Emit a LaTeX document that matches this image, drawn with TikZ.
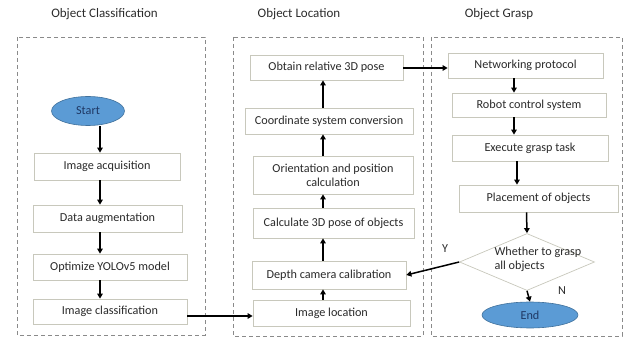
\documentclass[tikz,border=0pt]{standalone}
\usepackage{fontspec}
\setmainfont{Carlito}
\usetikzlibrary{shapes.geometric,arrows.meta,calc}
\definecolor{boxline}{HTML}{C8C8BC}
\definecolor{dashline}{HTML}{8A8A8A}
\definecolor{ellfill}{HTML}{5B9BD5}
\definecolor{elldraw}{HTML}{41719C}
\definecolor{elltext}{HTML}{1F3864}
\definecolor{txt}{HTML}{2B2B2B}
\begin{document}
\begin{tikzpicture}[x=1pt,y=-1pt,
  every node/.style={font=\fontsize{12.2}{14}\selectfont, text=txt},
  procbox/.style={draw=boxline, fill=white, line width=0.7pt, inner sep=1pt, align=center},
  term/.style={ellipse, draw=elldraw, fill=ellfill, line width=0.6pt, inner sep=0pt, text=elltext},
  decision/.style={diamond, draw=boxline, fill=white, line width=0.7pt, inner sep=0pt},
  panel/.style={draw=dashline, dash pattern=on 4pt off 3pt, line width=0.6pt},
  arr/.style={-{Triangle[length=5pt,width=5.5pt]}, line width=1.5pt, draw=black},
  title/.style={font=\fontsize{13}{15}\selectfont}
]
\useasboundingbox (0,0) rectangle (629,339);

% panels
\draw[panel] (17,37) rectangle (205,335);
\draw[panel] (233,37) rectangle (423,336);
\draw[panel] (431,37) rectangle (622,336);

% titles
\node[title] (t1) at (104.5,14) {Object Classification};
\node[title] (t2) at (299,14) {Object Location};
\node[title] (t3) at (499,14) {Object Grasp};

% left column
\node[term, minimum width=73, minimum height=29] (start) at (88,111) {Start};
\node[procbox, minimum width=146, minimum height=27] (acq) at (107,166.5) {Image acquisition};
\node[procbox, minimum width=149, minimum height=27] (aug) at (107.5,218.5) {Data augmentation};
\node[procbox, minimum width=154, minimum height=26] (yolo) at (110,267) {Optimize YOLOv5 model};
\node[procbox, minimum width=154, minimum height=25] (cls) at (110,311.5) {Image classification};

% middle column
\node[procbox, minimum width=153, minimum height=25] (obtain) at (326.5,67.5) {Obtain relative 3D pose};
\node[procbox, minimum width=168, minimum height=26] (coord) at (329,121) {Coordinate system conversion};
\node[procbox, minimum width=160, minimum height=38] (orient) at (333,175) {Orientation and position\\calculation};
\node[procbox, minimum width=161, minimum height=30] (calc) at (333.5,223) {Calculate 3D pose of objects};
\node[procbox, minimum width=154, minimum height=28] (depth) at (329,275) {Depth camera calibration};
\node[procbox, minimum width=157, minimum height=26] (imgloc) at (331.5,313) {Image location};

% right column
\node[procbox, minimum width=155, minimum height=25] (net) at (525.5,65.5) {Networking protocol};
\node[procbox, minimum width=154, minimum height=24] (robot) at (529,105) {Robot control system};
\node[procbox, minimum width=156, minimum height=26] (exec) at (530,148) {Execute grasp task};
\node[procbox, minimum width=159, minimum height=27] (place) at (538.5,198.5) {Placement of objects};
\node[decision, minimum width=135, minimum height=57] (dec) at (527,262) {};
\node[align=left, anchor=west] (dectext) at (491,259) {Whether to grasp\\all objects};
\node[term, minimum width=96, minimum height=26] (end) at (530,315) {End};
\node (ylab) at (445,249) {Y};
\node (nlab) at (562,291) {N};

% arrow columns
\coordinate (cl) at (100,0);
\coordinate (cm) at (323,0);
\coordinate (cr1) at (514,0);
\coordinate (cr2) at (517,0);
\coordinate (cr3) at (526.5,0);
\coordinate (row1) at (0,316);
\coordinate (row2) at (0,68);

% left arrows
\draw[arr] (start.south -| cl) -- (acq.north -| cl);
\draw[arr] (acq.south -| cl) -- (aug.north -| cl);
\draw[arr] (aug.south -| cl) -- (yolo.north -| cl);
\draw[arr] (yolo.south -| cl) -- (cls.north -| cl);

% cross arrows
\draw[arr] (cls.east |- row1) -- (imgloc.west |- row1);
\draw[arr] (obtain.east |- row2) -- (net.west |- row2);

% middle arrows (upward)
\draw[arr] (imgloc.north -| cm) -- (depth.south -| cm);
\draw[arr] (depth.north -| cm) -- (calc.south -| cm);
\draw[arr] (calc.north -| cm) -- (orient.south -| cm);
\draw[arr] (orient.north -| cm) -- (coord.south -| cm);
\draw[arr] (coord.north -| cm) -- (obtain.south -| cm);

% right arrows
\draw[arr] (net.south -| cr1) -- (robot.north -| cr1);
\draw[arr] (robot.south -| cr1) -- (exec.north -| cr1);
\draw[arr] (exec.south -| cr2) -- (place.north -| cr2);
\draw[arr] (place.south -| cr3) -- (dec.north);
\draw[arr] (dec.south) -- (end.north);
\draw[arr] (dec.west) -- (depth.east);
\end{tikzpicture}
\end{document}
